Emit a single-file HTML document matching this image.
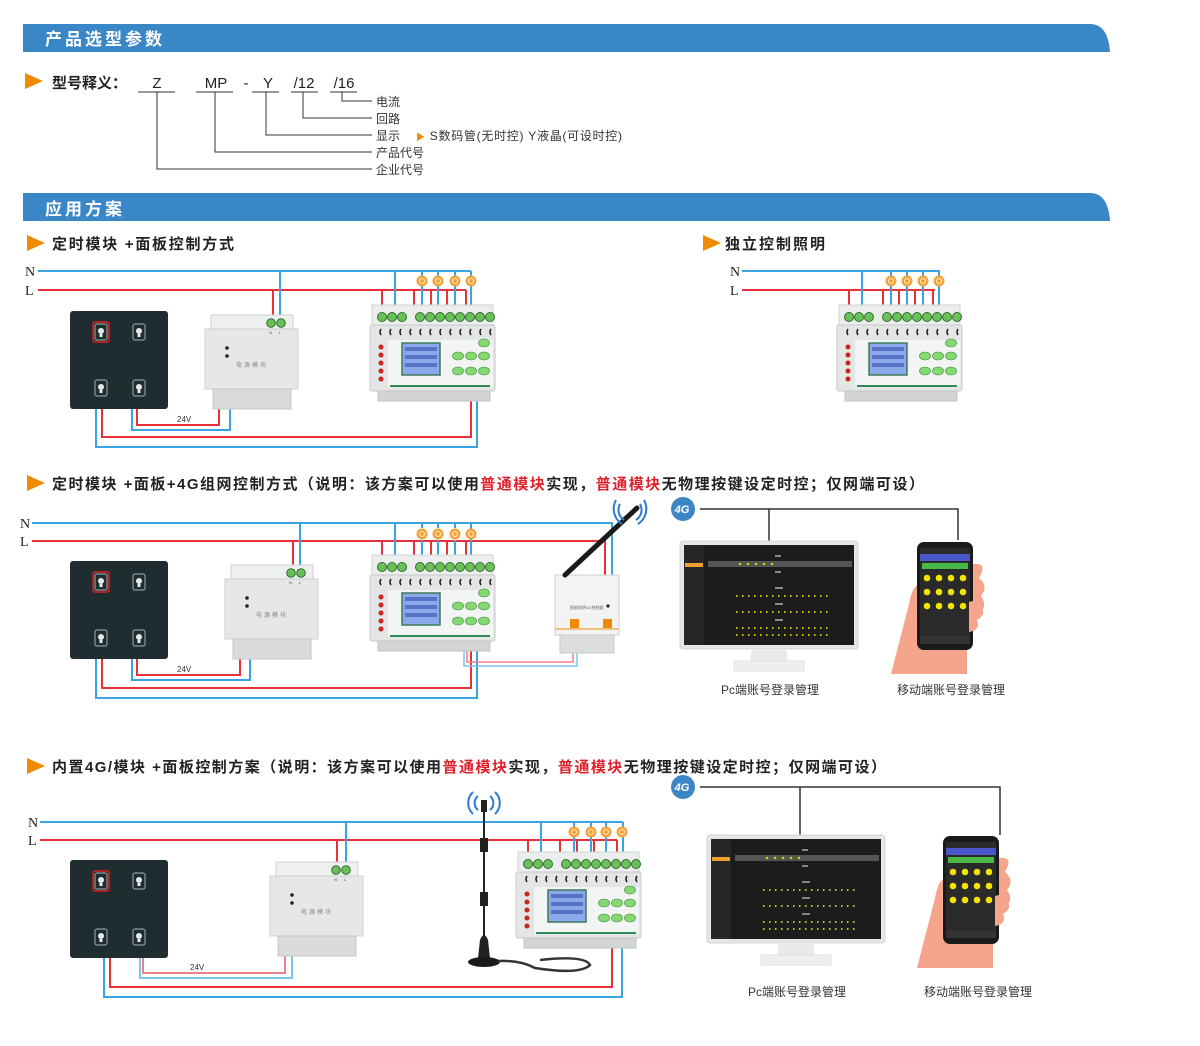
<!DOCTYPE html>
<html><head><meta charset="utf-8"><style>
html,body{margin:0;padding:0;background:#fff}
svg{display:block}
text{font-family:"Liberation Sans","Noto Sans CJK SC",sans-serif}
text.serif{font-family:"Liberation Serif",serif}
</style></head><body>
<svg width="1200" height="1046" viewBox="0 0 1200 1046" xmlns="http://www.w3.org/2000/svg">
<defs>
<g id="ctrl">
 <rect x="2" y="0" width="121" height="22" fill="#eceeee" stroke="#d0d2d2"/>
 <rect x="0" y="20" width="125" height="66" rx="2" fill="#e4e6e6" stroke="#c8caca"/>
 <g fill="#6cc05a" stroke="#2f6e2f" stroke-width="1">
  <circle cx="12" cy="12" r="4.5"/><circle cx="22" cy="12" r="4.5"/><circle cx="32" cy="12" r="4.5"/>
  <circle cx="50" cy="12" r="4.5"/><circle cx="60" cy="12" r="4.5"/><circle cx="70" cy="12" r="4.5"/><circle cx="80" cy="12" r="4.5"/>
  <circle cx="90" cy="12" r="4.5"/><circle cx="100" cy="12" r="4.5"/><circle cx="110" cy="12" r="4.5"/><circle cx="120" cy="12" r="4.5"/>
 </g>
 <g stroke="#222" stroke-width="1.6" fill="none">
  <path d="M11 24q-2 3 0 6M21 24q-2 3 0 6M31 24q-2 3 0 6M41 24q-2 3 0 6M51 24q-2 3 0 6M61 24q-2 3 0 6M71 24q-2 3 0 6M81 24q-2 3 0 6M91 24q-2 3 0 6M101 24q-2 3 0 6M111 24q-2 3 0 6M121 24q-2 3 0 6"/>
 </g>
 <rect x="18" y="35" width="105" height="47" fill="#f3f4f4"/>
 <rect x="32" y="38" width="38" height="32" fill="#8aa8ea" stroke="#3c7a5a" stroke-width="1.5"/>
 <g fill="#3a4fb0" opacity=".6"><rect x="35" y="42" width="32" height="4"/><rect x="35" y="50" width="32" height="4"/><rect x="35" y="58" width="32" height="4"/></g>
 <g fill="#d02020"><circle cx="11" cy="42" r="2.5"/><circle cx="11" cy="50" r="2.5"/><circle cx="11" cy="58" r="2.5"/><circle cx="11" cy="66" r="2.5"/><circle cx="11" cy="74" r="2.5"/></g>
 <g fill="#86d870" stroke="#3a8a3a" stroke-width=".6">
  <ellipse cx="88" cy="51" rx="5.5" ry="4"/><ellipse cx="101" cy="51" rx="5.5" ry="4"/><ellipse cx="114" cy="51" rx="5.5" ry="4"/>
  <ellipse cx="88" cy="66" rx="5.5" ry="4"/><ellipse cx="101" cy="66" rx="5.5" ry="4"/><ellipse cx="114" cy="66" rx="5.5" ry="4"/>
  <ellipse cx="114" cy="38" rx="5.5" ry="4"/>
 </g>
 <rect x="20" y="80" width="100" height="2" fill="#2e8b57"/>
 <rect x="8" y="86" width="112" height="10" fill="#d3d5d5" stroke="#c2c4c4"/>
</g>
<g id="pwr">
 <rect x="6" y="0" width="82" height="16" fill="#eef0f0" stroke="#d0d2d2"/>
 <rect x="0" y="14" width="93" height="60" fill="#e6e8e8" stroke="#cfd1d1"/>
 <circle cx="66" cy="8" r="4.3" fill="#6cc05a" stroke="#2f6e2f"/><circle cx="76" cy="8" r="4.3" fill="#6cc05a" stroke="#2f6e2f"/>
 <text x="64" y="19" font-size="4" fill="#555">N</text><text x="74" y="19" font-size="4" fill="#555">L</text>
 <circle cx="22" cy="33" r="1.8" fill="#222"/><circle cx="22" cy="41" r="1.8" fill="#222"/>
 <text x="47" y="52" font-size="6" fill="#888" text-anchor="middle" letter-spacing="2">电源模块</text>
 <rect x="8" y="74" width="78" height="20" fill="#d9dbdb" stroke="#c6c8c8"/>
</g>
<g id="ico"><rect x="-6" y="-8" width="12" height="16" rx="2" fill="none" stroke="#8a9aa0" stroke-width="1.2"/><circle cx="0" cy="-1" r="3" fill="#e8e8e8"/><rect x="-1.5" y="2" width="3" height="3" fill="#e8e8e8"/></g>
<g id="panel">
 <rect x="0" y="0" width="98" height="98" rx="3" fill="#1f2d30"/>
 <use href="#ico" x="31" y="21"/><use href="#ico" x="69" y="21"/><use href="#ico" x="31" y="77"/><use href="#ico" x="69" y="77"/>
 <rect x="23" y="11" width="16" height="20" rx="2" fill="none" stroke="#e02020" stroke-width="1.5"/>
</g>
<g id="lamp"><circle r="5.5" fill="#f5a33a"/><circle r="2.5" fill="none" stroke="#fff" stroke-width=".8"/></g>
<g id="mon">
 <rect x="0" y="0" width="178" height="108" rx="3" fill="#e6e6e6" stroke="#d4d4d4"/>
 <rect x="4" y="4" width="170" height="100" fill="#1c1c1c"/>
 <rect x="4" y="4" width="20" height="100" fill="#262626"/>
 <rect x="5" y="22" width="18" height="4" fill="#f0a030"/>
 <rect x="28" y="20" width="144" height="6" fill="#555"/>
 <g fill="#d8d800">
  <circle cx="60" cy="23" r="1.2"/><circle cx="68" cy="23" r="1.2"/><circle cx="76" cy="23" r="1.2"/><circle cx="84" cy="23" r="1.2"/><circle cx="92" cy="23" r="1.2"/>
 </g>
 <g stroke="#c8c800" stroke-width="2" stroke-dasharray="1.5 4.5">
  <line x1="56" y1="55" x2="150" y2="55"/><line x1="56" y1="71" x2="150" y2="71"/><line x1="56" y1="87" x2="150" y2="87"/><line x1="56" y1="94" x2="150" y2="94"/>
 </g>
 <g fill="#888"><rect x="95" y="14" width="6" height="2"/><rect x="95" y="30" width="6" height="2"/><rect x="95" y="46" width="8" height="2"/><rect x="95" y="62" width="8" height="2"/><rect x="95" y="78" width="8" height="2"/></g>
 <path d="M72 108 L70 121 L108 121 L106 108Z" fill="#e9e9e9"/>
 <rect x="54" y="120" width="70" height="10" fill="#efefef" stroke="#e0e0e0"/>
</g>
<g id="phone">
 <path d="M-26 132 L-8 62 Q-4 40 4 44 L4 100 L30 108 Q56 96 60 72 Q72 66 64 54 Q72 44 62 36 Q70 22 60 22 L50 22 L50 132Z" fill="#f5a58c"/>
 <rect x="0" y="0" width="56" height="108" rx="7" fill="#1a1a1a"/>
 <rect x="3" y="6" width="50" height="96" fill="#2a2a2a"/>
 <rect x="3" y="12" width="50" height="7" fill="#4a57c9"/>
 <rect x="5" y="21" width="46" height="6" fill="#49b848"/>
 <g fill="#f2e300"><circle cx="10" cy="36" r="3.3"/><circle cx="22" cy="36" r="3.3"/><circle cx="34" cy="36" r="3.3"/><circle cx="46" cy="36" r="3.3"/>
 <circle cx="10" cy="50" r="3.3"/><circle cx="22" cy="50" r="3.3"/><circle cx="34" cy="50" r="3.3"/><circle cx="46" cy="50" r="3.3"/>
 <circle cx="10" cy="64" r="3.3"/><circle cx="22" cy="64" r="3.3"/><circle cx="34" cy="64" r="3.3"/><circle cx="46" cy="64" r="3.3"/></g>
 <rect x="3" y="94" width="50" height="8" fill="#333"/>
 <path d="M52 60 Q66 56 64 66 Q70 72 60 78 Q64 88 52 90Z" fill="#f5a58c"/>
</g>
<g id="g4"><circle r="12" fill="#3d86c6"/><text x="-1" y="4" font-size="11" font-weight="bold" font-style="italic" fill="#fff" text-anchor="middle">4G</text></g>
</defs>

<!-- headers -->
<path d="M23 24 H1090 Q1108 24 1110 52 H23Z" fill="#3a87c8"/>
<text x="45" y="45" font-size="17" font-weight="bold" fill="#fff" letter-spacing="3">产品选型参数</text>
<path d="M23 193 H1090 Q1108 193 1110 221 H23Z" fill="#3a87c8"/>
<text x="45" y="215" font-size="17" font-weight="bold" fill="#fff" letter-spacing="3">应用方案</text>

<!-- model -->
<path d="M25 73 L43 81 L25 89Z" fill="#f08a00"/>
<text x="52" y="88" font-size="15" font-weight="bold" fill="#222">型号释义：</text>
<g font-size="15" fill="#222" text-anchor="middle">
<text x="157" y="88">Z</text><text x="216" y="88">MP</text><text x="246" y="88">-</text><text x="268" y="88">Y</text><text x="304" y="88">/12</text><text x="344" y="88">/16</text></g>
<g stroke="#333" stroke-width="1" fill="none">
<path d="M138 92H175M196 92H233M252 92H279M291 92H318M330 92H357"/>
<path d="M342 92V101H372M303 92V118H372M266 92V135H372M215 92V152H372M157 92V169H372"/>
</g>
<g font-size="12" fill="#333"><text x="376" y="106">电流</text><text x="376" y="123">回路</text><text x="376" y="140">显示</text><text x="376" y="157">产品代号</text><text x="376" y="174">企业代号</text>
<text x="416" y="140" textLength="206" lengthAdjust="spacing"><tspan fill="#f08a00" font-size="9">▶</tspan> S数码管(无时控)  Y液晶(可设时控)</text></g>

<!-- section titles -->
<path d="M27 235 L45 243 L27 251Z" fill="#f08a00"/>
<text x="52" y="249" font-size="15" font-weight="bold" fill="#222" textLength="182" lengthAdjust="spacing">定时模块 +面板控制方式</text>
<path d="M703 235 L721 243 L703 251Z" fill="#f08a00"/>
<text x="725" y="249" font-size="15" font-weight="bold" fill="#222" textLength="100" lengthAdjust="spacing">独立控制照明</text>
<path d="M27 475 L45 483 L27 491Z" fill="#f08a00"/>
<text x="52" y="489" font-size="15" font-weight="bold" fill="#222" textLength="872" lengthAdjust="spacing">定时模块 +面板+4G组网控制方式（说明：该方案可以使用<tspan fill="#e0202a">普通模块</tspan>实现，<tspan fill="#e0202a">普通模块</tspan>无物理按键设定时控；仅网端可设）</text>
<path d="M27 758 L45 766 L27 774Z" fill="#f08a00"/>
<text x="52" y="772" font-size="15" font-weight="bold" fill="#222" textLength="834" lengthAdjust="spacing">内置4G/模块 +面板控制方案（说明：该方案可以使用<tspan fill="#e0202a">普通模块</tspan>实现，<tspan fill="#e0202a">普通模块</tspan>无物理按键设定时控；仅网端可设）</text>

<g font-size="14" fill="#222">
<text class="serif" x="25" y="276">N</text><text class="serif" x="25" y="295">L</text>
<text class="serif" x="730" y="276">N</text><text class="serif" x="730" y="295">L</text>
<text class="serif" x="20" y="528">N</text><text class="serif" x="20" y="546">L</text>
<text class="serif" x="28" y="827">N</text><text class="serif" x="28" y="845">L</text></g>

<!-- ===== Section 1 ===== -->
<g fill="none" stroke-width="2">
 <path d="M38 271H471" stroke="#3aa3e3"/><path d="M38 290H466" stroke="#e8303a"/>
 <path d="M280 271V318M395 271V310M422 271V276M438 271V276M455 271V276M471 271V310M422 286V310M438 286V310M455 286V310" stroke="#3aa3e3"/>
 <path d="M273 290V318M382 290V310M414 290V310M431 290V310M447 290V310M466 290V310" stroke="#e8303a"/>
 <path d="M102 408V437H471V398" stroke="#e8303a"/><path d="M96 408V447H477V398" stroke="#3aa3e3"/>
 <path d="M137 408V425H219V405" stroke="#e8303a"/><path d="M132 408V430H230V405" stroke="#3aa3e3"/>
</g>
<use href="#panel" x="70" y="311"/><use href="#pwr" x="205" y="315"/><use href="#ctrl" x="370" y="305"/>
<use href="#lamp" x="422" y="281"/><use href="#lamp" x="438" y="281"/><use href="#lamp" x="455" y="281"/><use href="#lamp" x="471" y="281"/>
<text x="177" y="422" font-size="8" fill="#333">24V</text>

<!-- right section 1 -->
<g fill="none" stroke-width="2">
 <path d="M742 271H940" stroke="#3aa3e3"/><path d="M742 290H935" stroke="#e8303a"/>
 <path d="M862 271V310M891 271V276M907 271V276M923 271V276M939 271V310M891 286V310M907 286V310M923 286V310" stroke="#3aa3e3"/>
 <path d="M849 290V310M883 290V310M899 290V310M915 290V310M933 290V310" stroke="#e8303a"/>
</g>
<use href="#ctrl" x="837" y="305"/>
<use href="#lamp" x="891" y="281"/><use href="#lamp" x="907" y="281"/><use href="#lamp" x="923" y="281"/><use href="#lamp" x="939" y="281"/>

<!-- ===== Section 2 ===== -->
<g fill="none" stroke-width="2">
 <path d="M32 523H612V578" stroke="#3aa3e3"/><path d="M32 541H605V578" stroke="#e8303a"/>
 <path d="M300 523V568M395 523V560M422 523V528M438 523V528M455 523V528M471 523V560M422 540V560M438 540V560M455 540V560" stroke="#3aa3e3"/>
 <path d="M293 541V568M382 541V560M414 541V560M431 541V560M447 541V560M466 541V560" stroke="#e8303a"/>
 <path d="M102 658V688H471V648" stroke="#e8303a"/><path d="M96 658V698H477V648" stroke="#3aa3e3"/>
 <path d="M137 658V675H240V655" stroke="#e8303a"/><path d="M132 658V680H250V655" stroke="#3aa3e3"/>
 <path d="M467 648V662H573V650" stroke="#f08088" stroke-width="1.5"/><path d="M464 648V666H577V650" stroke="#7cc4f0" stroke-width="1.5"/>
</g>
<use href="#panel" x="70" y="561"/><use href="#pwr" x="225" y="565"/><use href="#ctrl" x="370" y="555"/>
<use href="#lamp" x="422" y="534"/><use href="#lamp" x="438" y="534"/><use href="#lamp" x="455" y="534"/><use href="#lamp" x="471" y="534"/>
<text x="177" y="672" font-size="8" fill="#333">24V</text>
<!-- 4G module -->
<rect x="555" y="575" width="64" height="60" fill="#f2f3f3" stroke="#cfd1d1"/>
<rect x="560" y="635" width="54" height="18" fill="#dcdede" stroke="#c8caca"/>
<rect x="555" y="628" width="64" height="2" fill="#f0c080"/>
<rect x="570" y="619" width="9" height="9" fill="#f08a00"/><rect x="603" y="619" width="9" height="9" fill="#f08a00"/>
<circle cx="608" cy="606" r="1.6" fill="#222"/>
<text x="570" y="609" font-size="4" fill="#666">智能照明4G控制器</text>
<line x1="565" y1="575" x2="637" y2="508" stroke="#1a1a1a" stroke-width="5" stroke-linecap="round"/>
<g fill="none" stroke="#2a7bd0" stroke-width="2"><path d="M620 504a12 12 0 0 0 4 16M616 500a18 18 0 0 0 6 24M640 504a12 12 0 0 1-4 16M644 500a18 18 0 0 1-6 24"/></g>
<use href="#g4" x="683" y="509"/>
<path d="M700 509H958V540M769 509V541" fill="none" stroke="#333" stroke-width="1.5"/>
<use href="#mon" x="680" y="541"/>
<use href="#phone" x="917" y="542"/>
<text x="770" y="694" font-size="12" fill="#333" text-anchor="middle">Pc端账号登录管理</text>
<text x="951" y="694" font-size="12" fill="#333" text-anchor="middle">移动端账号登录管理</text>

<!-- ===== Section 3 ===== -->
<g fill="none" stroke-width="2">
 <path d="M40 822H623" stroke="#3aa3e3"/><path d="M40 840H617" stroke="#e8303a"/>
 <path d="M346 822V866M541 822V857M574 822V827M591 822V827M606 822V827M623 822V857M574 837V857M591 837V857M606 837V857" stroke="#3aa3e3"/>
 <path d="M337 840V866M528 840V857M560 840V857M577 840V857M594 840V857M617 840V857" stroke="#e8303a"/>
 <path d="M110 957V987H612V945" stroke="#e8303a"/><path d="M104 957V997H622V945" stroke="#3aa3e3"/>
 <path d="M143 957V973H285V955" stroke="#f08088"/><path d="M140 957V978H292V955" stroke="#7cc4f0"/>
</g>
<use href="#panel" x="70" y="860"/><use href="#pwr" x="270" y="862"/><use href="#ctrl" x="516" y="852"/>
<use href="#lamp" x="574" y="832"/><use href="#lamp" x="591" y="832"/><use href="#lamp" x="606" y="832"/><use href="#lamp" x="622" y="832"/>
<text x="190" y="970" font-size="8" fill="#333">24V</text>
<!-- antenna -->
<line x1="484" y1="803" x2="484" y2="958" stroke="#222" stroke-width="2"/>
<rect x="481" y="800" width="6" height="12" fill="#222"/>
<rect x="480" y="838" width="8" height="14" fill="#222"/><rect x="480" y="892" width="8" height="14" fill="#222"/>
<path d="M480 940 Q484 930 488 940 L490 958 H478Z" fill="#222"/>
<ellipse cx="484" cy="962" rx="16" ry="5" fill="#1a1a1a"/>
<path d="M498 961 Q520 960 535 968 Q580 975 590 965 Q585 955 540 960" fill="none" stroke="#333" stroke-width="2.5"/>
<g fill="none" stroke="#2a7bd0" stroke-width="2"><path d="M478 796a9 9 0 0 0 0 14M473 792a15 15 0 0 0 0 22M490 796a9 9 0 0 1 0 14M495 792a15 15 0 0 1 0 22"/></g>
<use href="#g4" x="683" y="787"/>
<path d="M700 787H1000V835M800 787V836" fill="none" stroke="#333" stroke-width="1.5"/>
<use href="#mon" x="707" y="835"/>
<use href="#phone" x="943" y="836"/>
<text x="797" y="996" font-size="12" fill="#333" text-anchor="middle">Pc端账号登录管理</text>
<text x="978" y="996" font-size="12" fill="#333" text-anchor="middle">移动端账号登录管理</text>
</svg>
</body></html>
